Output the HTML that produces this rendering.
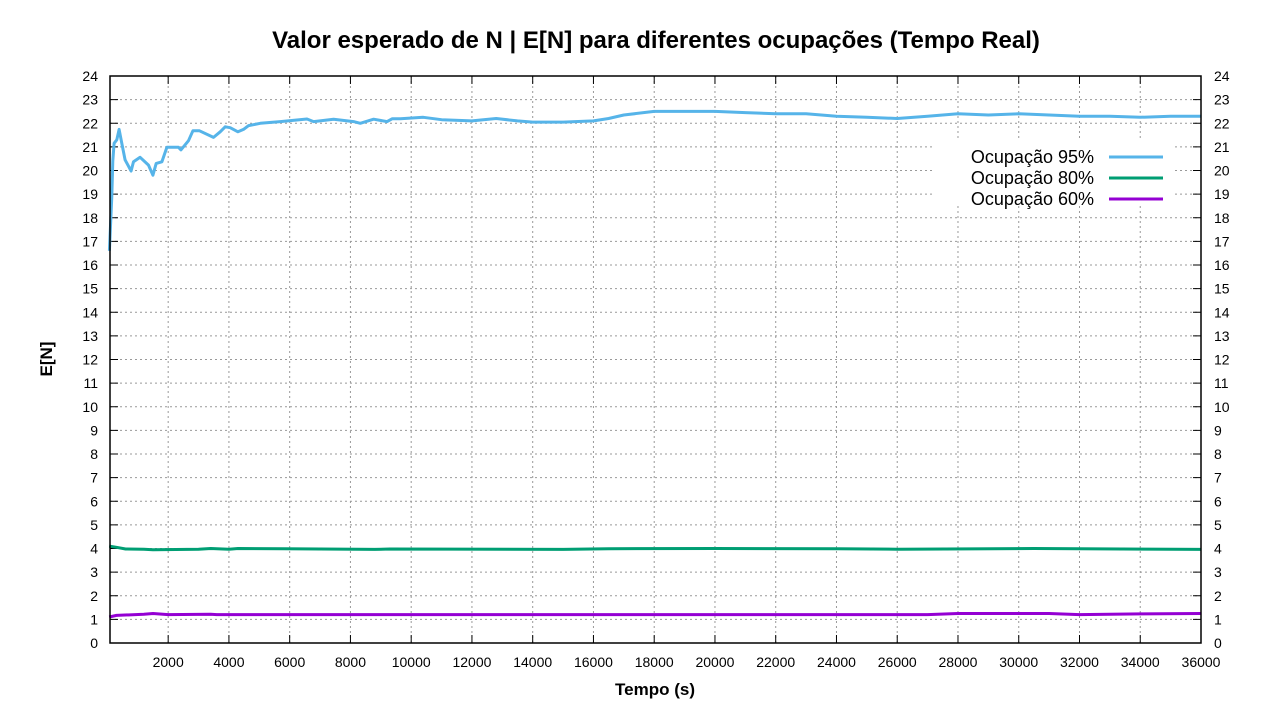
<!DOCTYPE html>
<html><head><meta charset="utf-8"><style>
body{margin:0;background:#fff;width:1280px;height:720px;overflow:hidden}
svg text{font-family:"Liberation Sans",sans-serif;fill:#000}
</style></head><body>
<svg id="chart" width="1280" height="720">
<text x="656" y="48" text-anchor="middle" font-size="24" font-weight="bold">Valor esperado de N | E[N] para diferentes ocupações (Tempo Real)</text>
<text x="655" y="695" text-anchor="middle" font-size="17" font-weight="bold">Tempo (s)</text>
<text transform="translate(52,359) rotate(-90)" text-anchor="middle" font-size="17" font-weight="bold">E[N]</text>
<g id="grid"></g><g id="series"></g>
<rect x="110" y="76" width="1091" height="567" fill="none" stroke="#000" stroke-width="1.5"/>
<g id="legend">
<rect x="935" y="140" width="240" height="66" fill="#fff"/>
</g>
</svg>
<script>
const xTicks=[2000,4000,6000,8000,10000,12000,14000,16000,18000,20000,22000,24000,26000,28000,30000,32000,34000,36000];
const yTicks=[0,1,2,3,4,5,6,7,8,9,10,11,12,13,14,15,16,17,18,19,20,21,22,23,24];
const seriesNames=["Ocupação 95%","Ocupação 80%","Ocupação 60%"];
const seriesColors=["#56b4e9","#009e73","#9400d3"];
const t95=[66,145,178,221,310,385,474,583,781,857,1077,1351,1496,1605,1792,1957,2339,2418,2669,2814,3031,3493,3713,3878,4043,4296,4481,4646,5032,5690,6570,6787,7446,8105,8326,8764,9206,9371,9644,10400,11000,12000,12800,13500,14000,15000,16000,16500,17000,18000,19000,20000,21000,22000,23000,24000,25000,26000,27000,28000,29000,30000,31000,32000,33000,34000,35000,36000];
const v95=[16.6,18.9,20.4,21.15,21.3,21.74,21.15,20.45,19.98,20.37,20.56,20.23,19.8,20.3,20.37,20.98,20.98,20.87,21.26,21.68,21.68,21.4,21.64,21.85,21.81,21.64,21.74,21.9,22.0,22.07,22.18,22.07,22.17,22.07,22.0,22.17,22.07,22.19,22.19,22.25,22.15,22.1,22.2,22.1,22.05,22.05,22.1,22.2,22.35,22.5,22.5,22.5,22.45,22.4,22.4,22.3,22.25,22.2,22.3,22.4,22.35,22.4,22.35,22.3,22.3,22.25,22.3,22.3];
const t80=[60,300,600,1200,1500,3000,3400,4000,4300,5800,8800,9300,15000,16500,20000,24000,26000,30500,36000];
const v80=[4.1,4.05,3.98,3.97,3.95,3.97,4.0,3.97,4.0,3.99,3.96,3.98,3.96,3.99,4.0,3.99,3.97,4.0,3.96];
const t60=[60,300,1200,1500,2000,3400,3600,27000,28000,31000,32000,34000,36000];
const v60=[1.1,1.17,1.22,1.25,1.2,1.22,1.2,1.2,1.25,1.25,1.2,1.23,1.25];
const X0=110,X1=1201,Y0=643,Y1=76,XMIN=85,XMAX=36000,YMAX=24;
const sx=t=>X0+(t-XMIN)/(XMAX-XMIN)*(X1-X0);
const sy=v=>Y0-v/YMAX*(Y0-Y1);
const NS="http://www.w3.org/2000/svg";
const grid=document.getElementById('grid'),ser=document.getElementById('series'),leg=document.getElementById('legend');
function mk(tag,attrs,parent){const e=document.createElementNS(NS,tag);for(const k in attrs)e.setAttribute(k,attrs[k]);parent.appendChild(e);return e;}
xTicks.forEach(t=>{const x=sx(t);
 const g=mk('line',{x1:x,x2:x,y1:Y1,y2:Y0,stroke:'#999','stroke-dasharray':'2,3'},grid);
 
 
 mk('line',{x1:x,x2:x,y1:Y0,y2:Y0-8,stroke:'#000'},grid);
 mk('line',{x1:x,x2:x,y1:Y1,y2:Y1+8,stroke:'#000'},grid);
 const l=mk('text',{x:x,y:667,'text-anchor':'middle','font-size':14},grid);l.textContent=t;
 
 
});
yTicks.forEach(v=>{const y=sy(v);
 if(v>0&&v<24){const g=mk('line',{x1:X0,x2:X1,y1:y,y2:y,stroke:'#999','stroke-dasharray':'2,3'},grid);
 
 }
 mk('line',{x1:X0,x2:X0+8,y1:y,y2:y,stroke:'#000'},grid);
 mk('line',{x1:X1-8,x2:X1,y1:y,y2:y,stroke:'#000'},grid);
 const l=mk('text',{x:98,y:y+5,'text-anchor':'end','font-size':14},grid);l.textContent=v;
 
 
 const r=mk('text',{x:1214,y:y+5,'font-size':14},grid);r.textContent=v;
 
 
});
[[t95,v95],[t80,v80],[t60,v60]].forEach((s,i)=>{
 const d=s[0].map((t,j)=>(j?'L':'M')+sx(t).toFixed(1)+','+sy(s[1][j]).toFixed(1)).join(' ');
 const p=mk('path',{d:d,fill:'none',stroke:seriesColors[i],'stroke-width':3,'stroke-linejoin':'round'},ser);
 
 
});
seriesNames.forEach((n,i)=>{const y=157+i*21;
 const t=mk('text',{x:1094,y:y+6,'text-anchor':'end','font-size':18},leg);t.textContent=n;
 
 
 mk('line',{x1:1109,x2:1163,y1:y,y2:y,stroke:seriesColors[i],'stroke-width':3},leg);
});
</script>
</body></html>
